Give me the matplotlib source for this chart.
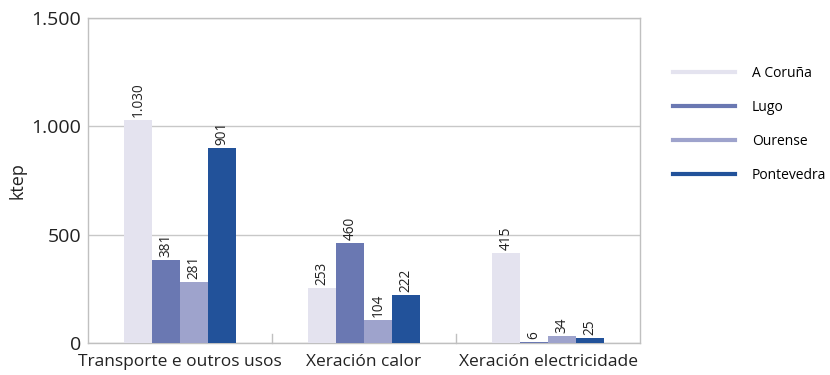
import matplotlib
matplotlib.use("Agg")
import matplotlib.pyplot as plt
import numpy as np
from matplotlib.lines import Line2D

plt.rcParams['font.family'] = ['Open Sans', 'DejaVu Sans']

categories = ["Transporte e outros usos", "Xeración calor", "Xeración electricidade"]
provinces = ["A Coruña", "Lugo", "Ourense", "Pontevedra"]
values = {
    "A Coruña":   [1030, 253, 415],
    "Lugo":       [381, 460, 6],
    "Ourense":    [281, 104, 34],
    "Pontevedra": [901, 222, 25],
}
colors = ["#E4E3EF", "#6A78B2", "#9EA3CC", "#22529A"]
yticks = [0, 500, 1000, 1500]
ytick_labels = ["0", "500", "1.000", "1.500"]

fig = plt.figure(figsize=(8.3, 3.75), dpi=100)
ax = fig.add_axes([88/830, 1-343/375, (640-88)/830, (343-18)/375])

x = np.arange(len(categories))
w = 0.153
for i, (prov, col) in enumerate(zip(provinces, colors)):
    xs = x + (i - 1.5) * w
    vals = values[prov]
    ax.bar(xs, vals, width=w, color=col, edgecolor='none', zorder=3)
    for xi, v in zip(xs, vals):
        lbl = f"{v:,}".replace(",", ".")
        ax.text(xi, v + 14, lbl, rotation=90, ha='center', va='bottom',
                fontsize=9.8, color='#222222', zorder=4)

ax.set_xlim(-0.5, len(categories) - 0.5)
ax.set_ylim(0, 1500)
ax.set_yticks(yticks)
ax.set_yticklabels(ytick_labels, fontsize=14)
ax.set_xticks(x)
ax.set_xticklabels(categories, fontsize=12.5)
ax.tick_params(axis='both', length=0, colors='#222222')
ax.tick_params(axis='y', pad=5)
ax.tick_params(axis='x', pad=8)
ax.set_ylabel("ktep", fontsize=13, color='#222222')
ax.yaxis.set_label_coords(-0.112, 0.5)

ax.yaxis.grid(True, color='#c8c8c8', linewidth=1, zorder=0)
for s in ax.spines.values():
    s.set_color('#c0c0c0')
    s.set_linewidth(1)

# separators between category groups
for b in [0.5, 1.5]:
    ax.plot([b, b], [0, 40], color='#c0c0c0', linewidth=1, zorder=2, clip_on=False)

handles = [Line2D([0], [0], color=c, linewidth=3) for c in colors]
fig.legend(handles, provinces, loc='upper left', bbox_to_anchor=(667/830, 1-60/375),
           frameon=False, fontsize=10, handlelength=4.5, handletextpad=1.2,
           labelspacing=1.38, borderaxespad=0)

fig.savefig("out.png", dpi=100)
